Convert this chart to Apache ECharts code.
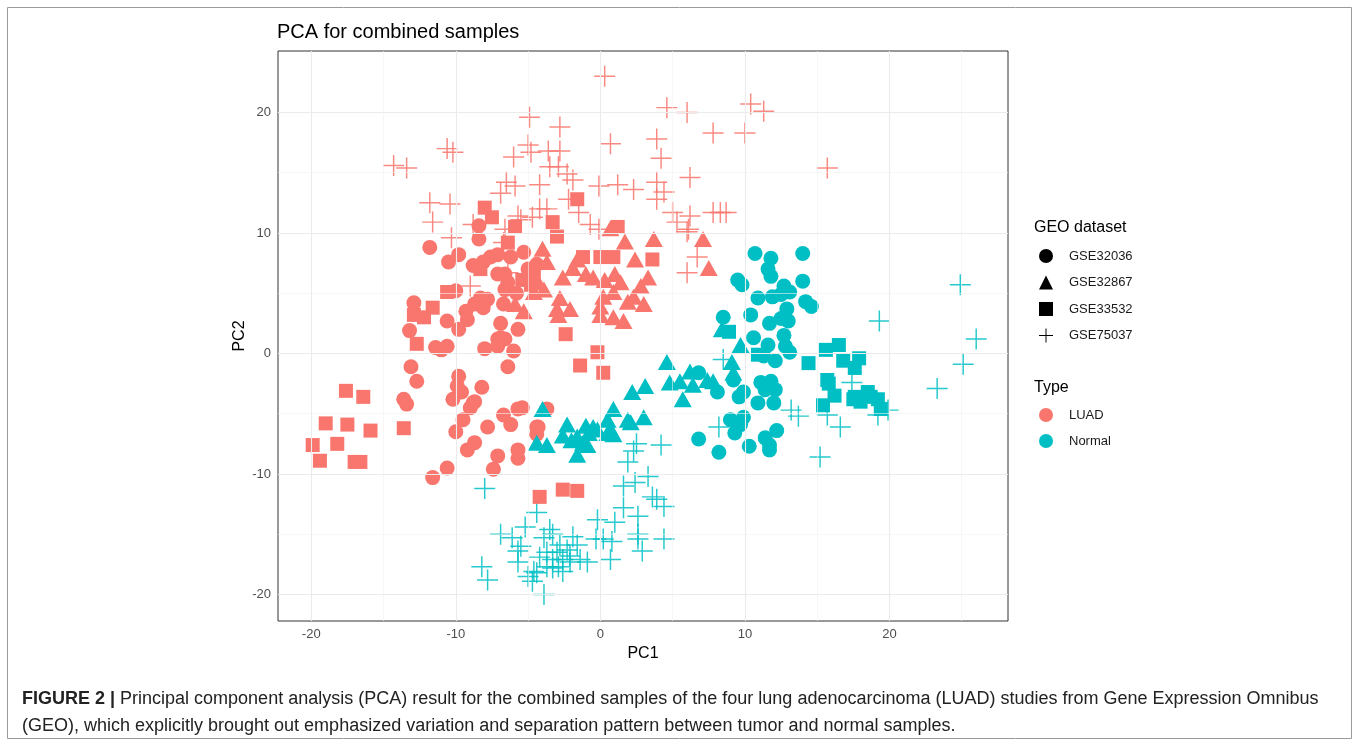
<!DOCTYPE html>
<html>
<head>
<meta charset="utf-8">
<title>PCA for combined samples</title>
<script src="https://cdn.jsdelivr.net/npm/echarts@6.0.0/dist/echarts.min.js"></script>
<style>
  html, body { margin: 0; padding: 0; background: #fff; }
  #main { width: 1360px; height: 746px; }
</style>
</head>
<body>
<div id="main"></div>
<script>
// PC1 / PC2, one array per dataset and type
var luad32036 = [
  [-11.8, 8.8], [-8.4, 10.6], [-8.4, 9.5], [-10.5, 7.6], [-9.8, 8.2], [-8.8, 7.3], [-8.1, 7.6],
  [-7.6, 8.0], [-7.1, 8.2], [-7.1, 6.6], [-6.6, 5.3], [-10.0, 5.2], [-12.9, 4.2], [-10.6, 2.7],
  [-9.3, 3.5], [-9.2, 2.8], [-9.8, 2.0], [-8.3, 4.6], [-7.8, 4.5], [-8.1, 3.8], [-6.7, 4.1],
  [-6.9, 2.5], [-7.1, 1.2], [-8.0, 0.4], [-6.0, 0.2], [-6.4, -1.1], [-13.2, 1.9], [-11.4, 0.5],
  [-11.0, 0.3], [-10.6, 0.6], [-13.1, -1.1], [-12.7, -2.3], [-9.8, -1.9], [-9.9, -2.7], [-9.6, -3.2],
  [-10.2, -3.8], [-8.2, -2.8], [-13.6, -3.8], [-13.4, -4.2], [-8.8, -4.1], [-9.0, -4.5], [-9.5, -5.5],
  [-6.7, -5.1], [-6.2, -5.9], [-5.7, -4.6], [-10.0, -6.5], [-7.8, -6.1], [-4.4, -6.1], [-4.4, -6.7],
  [-9.2, -8.0], [-8.7, -7.4], [-7.1, -8.5], [-5.7, -8.0], [-5.7, -8.7], [-7.4, -9.6], [-10.6, -9.5],
  [-11.6, -10.3], [-8.7, -4.0], [-7.1, 0.6], [-6.9, 1.3], [-5.3, 8.4], [-8.7, 4.1], [-6.2, 8.0],
  [-6.6, 6.6], [-5.7, 2.0], [-5.4, -4.5], [-3.7, -4.6], [-4.3, -6.1], [-6.6, 1.2], [-6.4, 5.9],
  [-5.8, 5.0], [-5.0, 7.0], [-4.4, 7.4]
];
var luad32867 = [
  [0.7, 10.4], [1.7, 9.3], [3.7, 9.5], [7.1, 9.5], [-4.0, 8.7], [-3.7, 7.6], [-1.6, 7.8], [-1.9, 7.1],
  [-2.6, 6.3], [-1.0, 6.6], [-0.5, 6.3], [0.3, 6.1], [1.0, 6.6], [1.4, 5.9], [0.9, 5.1], [0.2, 4.7],
  [2.4, 7.8], [3.3, 6.3], [2.8, 5.6], [2.3, 4.7], [1.9, 4.3], [3.0, 4.1], [0.0, 3.9], [0.0, 3.2],
  [0.9, 3.0], [1.6, 2.7], [-2.8, 4.6], [-2.1, 3.7], [-3.0, 3.7], [-2.9, 3.2], [-4.6, 5.1], [-5.3, 3.5],
  [-3.9, 5.3], [-4.3, 5.9], [-5.9, 4.1], [7.5, 7.1]
];
var luad33532 = [
  [-8.0, 12.1], [-7.5, 11.3], [-5.9, 10.5], [-6.4, 9.2], [-1.6, 12.8], [-3.3, 10.9], [-3.0, 9.7],
  [1.2, 10.5], [-1.2, 8.0], [0.0, 8.0], [0.9, 8.0], [3.6, 7.8], [-2.4, 1.6], [-0.2, 0.1], [-1.4, -1.0],
  [0.2, -1.6], [-8.3, 7.0], [-10.6, 5.1], [-11.6, 3.8], [-12.9, 3.2], [-12.2, 3.0], [-12.7, 0.8],
  [-17.6, -3.1], [-16.4, -3.6], [-19.0, -5.8], [-17.5, -5.9], [-15.9, -6.4], [-13.6, -6.2],
  [-19.9, -7.6], [-18.2, -7.5], [-19.4, -8.9], [-17.0, -9.0], [-16.6, -9.0], [-4.2, -11.9],
  [-2.6, -11.3], [-1.6, -11.4], [-5.4, 6.1], [-4.8, 5.7], [-4.6, 6.5]
];
var luad75037 = [
  [-14.3, 15.6], [-13.4, 15.4], [-10.6, 17.0], [-10.2, 16.7], [-11.8, 12.5], [-10.4, 12.4], [-11.6, 10.9],
  [-10.3, 9.6], [-6.0, 16.3], [-6.5, 14.2], [-6.9, 13.3], [-5.9, 13.9], [-5.7, 11.4], [-8.8, 10.7],
  [0.3, 23.0], [-4.9, 19.6], [-2.8, 18.8], [-5.0, 17.3], [-4.8, 16.7], [-3.6, 16.8], [-2.8, 16.8],
  [0.7, 17.4], [4.6, 20.4], [6.0, 20.0], [10.4, 20.7], [11.3, 20.1], [7.8, 18.3], [10.0, 18.3],
  [3.9, 17.8], [4.2, 16.2], [-3.5, 15.5], [-2.9, 15.5], [-2.3, 14.9], [-1.9, 14.4], [-4.2, 14.0],
  [-0.1, 13.9], [1.2, 14.0], [2.3, 13.6], [6.2, 14.6], [3.9, 14.2], [4.4, 13.4], [3.9, 12.8],
  [5.0, 11.7], [6.2, 11.4], [5.3, 10.9], [6.1, 10.3], [7.8, 11.7], [8.3, 11.7], [8.7, 11.7],
  [-1.5, 11.7], [-2.2, 12.8], [-0.7, 10.7], [-0.1, 10.3], [-4.2, 12.0], [-3.7, 12.0], [-4.7, 11.3],
  [-5.5, 11.1], [-6.6, 10.3], [6.0, 10.1], [6.7, 8.0], [6.0, 6.7], [-9.0, 5.6], [-6.7, 9.2],
  [-6.4, 6.7], [15.7, 15.4]
];
var normal32036 = [
  [9.5, 6.1], [9.8, 5.7], [8.5, 3.0], [6.8, -1.6], [8.1, -3.2], [9.2, -2.2], [9.6, -3.6], [9.0, -5.5],
  [9.7, -5.9], [6.8, -7.1], [10.7, 8.3], [11.8, 7.9], [14.0, 8.3], [11.6, 7.0], [11.8, 6.4], [12.7, 5.6],
  [13.1, 5.1], [11.9, 4.7], [12.5, 4.9], [14.0, 6.0], [10.9, 4.6], [14.2, 4.3], [14.6, 3.9], [12.9, 3.7],
  [10.4, 3.2], [12.5, 2.9], [13.0, 2.7], [11.7, 2.5], [12.7, 1.5], [10.6, 1.3], [11.6, 0.7], [12.8, 0.6],
  [13.1, 0.1], [11.3, -0.2], [12.1, -0.6], [11.1, -2.4], [11.8, -2.3], [12.1, -3.0], [11.4, -3.0],
  [9.9, -3.2], [10.9, -4.1], [12.0, -4.1], [9.9, -5.3], [9.3, -6.6], [8.2, -8.2], [10.3, -7.7],
  [11.4, -7.0], [12.2, -6.4], [11.7, -8.0], [11.7, -7.6]
];
var normal32867 = [
  [-4.0, -4.6], [-2.3, -5.9], [-1.6, -6.9], [-0.8, -6.6], [-0.2, -6.3], [0.5, -5.5], [0.9, -4.6],
  [0.7, -6.3], [1.9, -5.5], [3.0, -5.3], [2.2, -3.2], [3.1, -2.7], [4.6, -0.7], [4.8, -2.4], [5.7, -3.8],
  [6.2, -1.5], [5.5, -2.3], [6.4, -2.6], [7.8, -2.3], [7.4, -2.2], [9.1, -0.7], [9.7, 0.7], [8.4, 2.0],
  [-4.4, -7.4], [-3.7, -7.6], [9.2, -1.6], [-1.6, -8.4], [-0.9, -7.6], [-0.5, -6.1], [0.5, -6.6],
  [0.9, -6.7], [2.1, -5.7], [-2.0, -7.2], [-1.2, -7.4], [-2.6, -6.8], [-1.0, -6.0]
];
var normal33532 = [
  [8.9, 1.8], [10.9, -0.1], [15.6, 0.3], [16.5, 0.7], [14.4, -0.8], [16.8, -0.6], [17.9, -0.4],
  [17.6, -1.2], [15.7, -2.2], [15.8, -2.5], [16.2, -3.5], [15.4, -4.3], [17.6, -3.6], [18.5, -3.2],
  [18.0, -4.0], [19.2, -3.8], [19.4, -4.6], [18.7, -3.6], [17.5, -3.8]
];
var normal75037 = [
  [24.9, 5.7], [19.3, 2.7], [26.0, 1.2], [25.1, -0.9], [23.3, -2.9], [17.4, -2.4], [13.2, -4.7],
  [13.7, -5.2], [15.7, -5.1], [16.6, -6.1], [15.2, -8.6], [8.2, -6.1], [8.5, -0.5], [19.9, -4.7],
  [19.2, -5.1], [4.2, -7.6], [2.3, -8.1], [1.9, -9.0], [3.3, -10.2], [2.4, -10.7], [1.6, -11.0],
  [3.9, -12.1], [4.4, -12.7], [1.6, -12.8], [2.6, -13.5], [1.0, -14.0], [-0.2, -13.8], [2.6, -15.0],
  [2.6, -15.4], [4.4, -15.4], [0.8, -15.6], [0.2, -15.4], [-0.3, -15.4], [2.9, -16.4], [0.7, -17.1],
  [-4.4, -13.2], [-5.2, -14.4], [-6.9, -15.0], [-6.1, -15.3], [-5.5, -16.0], [-3.5, -14.6], [-3.3, -15.0],
  [-3.9, -15.3], [-2.8, -15.9], [-1.9, -15.2], [-1.6, -15.9], [-2.3, -16.3], [-3.0, -16.5], [-3.7, -16.5],
  [-4.2, -16.9], [-3.3, -17.1], [-2.6, -17.1], [-2.1, -16.8], [-1.4, -17.1], [-0.9, -17.3], [-2.1, -17.3],
  [-2.9, -17.7], [-2.6, -18.1], [-3.3, -17.8], [-3.7, -17.7], [-4.6, -18.1], [-5.0, -18.5], [-4.4, -18.2],
  [-4.7, -18.9], [-5.7, -17.3], [-8.2, -17.7], [-7.8, -18.8], [-3.9, -20.0], [-8.0, -11.2], [-5.7, -16.4],
  [2.5, -7.5], [3.6, -11.9]
];

var datasets = ['GSE32036', 'GSE32867', 'GSE33532', 'GSE75037'];
var types = ['LUAD', 'Normal'];
var tickValues = [-20, -10, 0, 10, 20];
var minorX = [-15, -5, 5, 15, 25];
var minorY = [-15, -5, 5, 15];

var colors = { LUAD: '#F8766D', Normal: '#00BFC4' };
var crossPath = 'path://M0,9.3H20V10.7H0Z M9.3,0H10.7V20H9.3Z';
var shapes = {
  GSE32036: { symbol: 'circle', size: 15 },
  GSE32867: { symbol: 'triangle', size: [18, 16] },
  GSE33532: { symbol: 'rect', size: 14 },
  GSE75037: { symbol: crossPath, size: 21 }
};
var pointData = {
  LUAD: { GSE32036: luad32036, GSE32867: luad32867, GSE33532: luad33532, GSE75037: luad75037 },
  Normal: { GSE32036: normal32036, GSE32867: normal32867, GSE33532: normal33532, GSE75037: normal75037 }
};

var font = "'Liberation Sans', Arial, Helvetica, sans-serif";

// grid lines (ggplot theme_bw style)
var gridLines = [];
tickValues.forEach(function (v) {
  gridLines.push({ xAxis: v, lineStyle: { color: '#EBEBEB', width: 1.1, type: 'solid' } });
  gridLines.push({ yAxis: v, lineStyle: { color: '#EBEBEB', width: 1.1, type: 'solid' } });
});
minorX.forEach(function (v) {
  gridLines.push({ xAxis: v, lineStyle: { color: '#F2F2F2', width: 0.6, type: 'solid' } });
});
minorY.forEach(function (v) {
  gridLines.push({ yAxis: v, lineStyle: { color: '#F2F2F2', width: 0.6, type: 'solid' } });
});

var series = [{
  name: 'grid',
  type: 'scatter',
  data: [],
  z: 1,
  silent: true,
  markLine: {
    silent: true,
    symbol: ['none', 'none'],
    label: { show: false },
    animation: false,
    data: gridLines
  }
}];

// crosses first so the filled shapes sit on top
['GSE75037', 'GSE32036', 'GSE32867', 'GSE33532'].forEach(function (ds) {
  types.forEach(function (t) {
    series.push({
      name: t + ' ' + ds,
      type: 'scatter',
      symbol: shapes[ds].symbol,
      symbolSize: shapes[ds].size,
      data: pointData[t][ds],
      z: ds === 'GSE75037' ? 2 : 3,
      itemStyle: { color: colors[t], opacity: ds === 'GSE75037' ? 0.85 : 1 }
    });
  });
});

// legend-only series
datasets.forEach(function (ds) {
  series.push({ name: ds, type: 'scatter', symbol: shapes[ds].symbol, data: [], itemStyle: { color: '#000', opacity: 1 } });
});
types.forEach(function (t) {
  series.push({ name: t, type: 'scatter', symbol: 'circle', data: [], itemStyle: { color: colors[t], opacity: 1 } });
});

var legendText = { fontFamily: font, fontSize: 13, color: '#1A1A1A', padding: [0, 0, 0, 11] };
var captionFont = "18px 'Liberation Sans', Arial";

var chart = echarts.init(document.getElementById('main'));
var option = {
  animation: false,
  backgroundColor: '#fff',
  textStyle: { fontFamily: font },
  title: {
    text: 'PCA for combined samples',
    left: 277,
    top: 22,
    padding: 0,
    textStyle: { fontFamily: font, fontSize: 20, fontWeight: 'normal', color: '#000' }
  },
  grid: {
    left: 278, right: 352, top: 51, bottom: 125,
    show: true, borderColor: '#333', borderWidth: 1, backgroundColor: '#fff'
  },
  xAxis: {
    type: 'value',
    min: -22.3, max: 28.2,
    name: 'PC1',
    nameLocation: 'middle',
    nameGap: 22,
    nameTextStyle: { fontFamily: font, fontSize: 16, color: '#000' },
    axisLine: { show: false },
    axisTick: { show: true, length: 4, customValues: tickValues, lineStyle: { color: '#333' } },
    axisLabel: { customValues: tickValues, color: '#4D4D4D', fontSize: 13, margin: 7, fontFamily: font },
    splitLine: { show: false }
  },
  yAxis: {
    type: 'value',
    min: -22.2, max: 25.1,
    name: 'PC2',
    nameLocation: 'middle',
    nameGap: 30,
    nameMoveOverlap: false,
    nameRotate: 90,
    nameTextStyle: { fontFamily: font, fontSize: 16, color: '#000' },
    axisLine: { show: false },
    axisTick: { show: true, length: 4, customValues: tickValues, lineStyle: { color: '#333' } },
    axisLabel: { customValues: tickValues, color: '#4D4D4D', fontSize: 13, margin: 7, fontFamily: font },
    splitLine: { show: false }
  },
  legend: [{
    data: datasets,
    orient: 'vertical',
    left: 1039,
    top: 249,
    itemWidth: 14,
    itemHeight: 14,
    itemGap: 12.5,
    selectedMode: false,
    padding: 0,
    itemStyle: { opacity: 1 },
    textStyle: legendText
  }, {
    data: types,
    orient: 'vertical',
    left: 1039,
    top: 408,
    itemWidth: 14,
    itemHeight: 14,
    itemGap: 12,
    selectedMode: false,
    padding: 0,
    itemStyle: { opacity: 1 },
    textStyle: legendText
  }],
  graphic: [
    { type: 'rect', shape: { x: 7.5, y: 7.5, width: 1344, height: 731 }, style: { fill: 'none', stroke: '#9A9A9A', lineWidth: 1 }, silent: true },
    { type: 'text', left: 1034, top: 220, style: { text: 'GEO dataset', font: "16px 'Liberation Sans', Arial", fill: '#000' } },
    { type: 'text', left: 1034, top: 380, style: { text: 'Type', font: "16px 'Liberation Sans', Arial", fill: '#000' } },
    {
      type: 'text', left: 22, top: 690,
      style: {
        text: '{b|FIGURE 2 |} Principal component analysis (PCA) result for the combined samples of the four lung adenocarcinoma (LUAD) studies from Gene Expression Omnibus',
        font: captionFont,
        fill: '#222',
        rich: { b: { fontWeight: 'bold', fontSize: 18, fontFamily: "'Liberation Sans', Arial", fill: '#222' } }
      }
    },
    {
      type: 'text', left: 22, top: 717,
      style: {
        text: '(GEO), which explicitly brought out emphasized variation and separation pattern between tumor and normal samples.',
        font: captionFont,
        fill: '#222'
      }
    }
  ],
  series: series
};
chart.setOption(option);
window.addEventListener('resize', function () { chart.resize(); });
</script>
</body>
</html>
